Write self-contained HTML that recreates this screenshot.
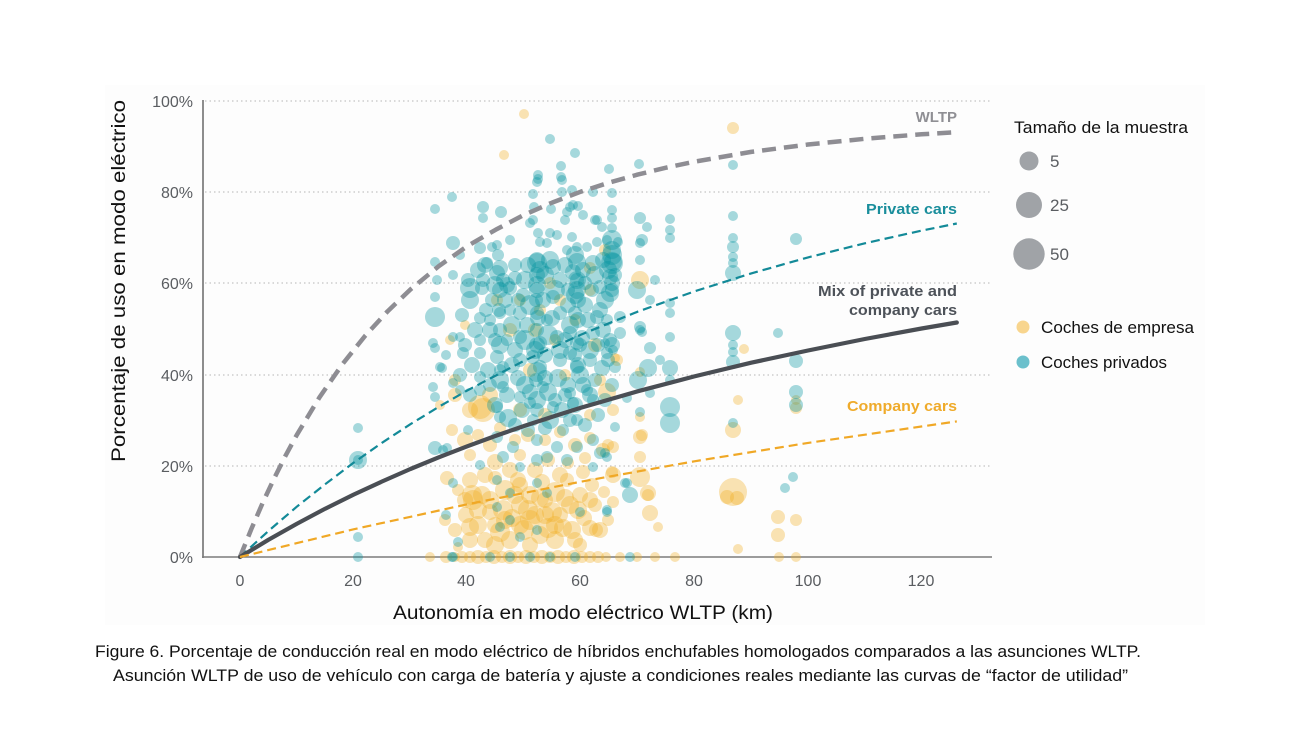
<!DOCTYPE html>
<html><head><meta charset="utf-8"><style>
html,body{margin:0;padding:0;background:#fff;}
svg{display:block;}
.t{fill:#00929f;fill-opacity:.35}
.o{fill:#efac1f;fill-opacity:.34}
.ax{font-family:"Liberation Sans",sans-serif;font-size:16px;fill:#5a5d61}
.cap{font-family:"Liberation Sans",sans-serif;fill:#111}
.lb{font-family:"Liberation Sans",sans-serif;font-weight:bold;font-size:15px}
</style></head><body>
<svg width="1304" height="730" viewBox="0 0 1304 730" xmlns="http://www.w3.org/2000/svg">
<rect x="0" y="0" width="1304" height="730" fill="#fff"/>
<rect x="105" y="85" width="1100" height="540" fill="#fdfdfd"/>
<!-- gridlines -->
<g stroke="#c4c4c4" stroke-width="1.2" stroke-dasharray="1.5 3">
<line x1="205" y1="101" x2="990" y2="101"/>
<line x1="205" y1="192" x2="990" y2="192"/>
<line x1="205" y1="283" x2="990" y2="283"/>
<line x1="205" y1="375" x2="990" y2="375"/>
<line x1="205" y1="466" x2="990" y2="466"/>
</g>
<line x1="203" y1="100" x2="203" y2="558" stroke="#8d8d8d" stroke-width="2"/>
<line x1="202" y1="557" x2="992" y2="557" stroke="#7d7d7d" stroke-width="1.6"/>
<!-- y ticks -->
<g class="ax" text-anchor="end">
<text x="193" y="107">100%</text>
<text x="193" y="198">80%</text>
<text x="193" y="289">60%</text>
<text x="193" y="381">40%</text>
<text x="193" y="472">20%</text>
<text x="193" y="563">0%</text>
</g>
<g class="ax" text-anchor="middle">
<text x="240" y="586">0</text>
<text x="353" y="586">20</text>
<text x="466" y="586">40</text>
<text x="580" y="586">60</text>
<text x="694" y="586">80</text>
<text x="808" y="586">100</text>
<text x="921" y="586">120</text>
</g>
<!-- axis titles -->
<text class="cap" transform="translate(125,281) rotate(-90)" text-anchor="middle" font-size="19" textLength="362" lengthAdjust="spacingAndGlyphs">Porcentaje de uso en modo eléctrico</text>
<text class="cap" x="393" y="619" font-size="19" textLength="380" lengthAdjust="spacingAndGlyphs">Autonomía en modo eléctrico WLTP (km)</text>
<text class="cap" x="95" y="657" font-size="16.5" textLength="1046" lengthAdjust="spacingAndGlyphs">Figure 6. Porcentaje de conducción real en modo eléctrico de híbridos enchufables homologados comparados a las asunciones WLTP.</text>
<text class="cap" x="113" y="681" font-size="16.5" textLength="1015" lengthAdjust="spacingAndGlyphs">Asunción WLTP de uso de vehículo con carga de batería  y ajuste a condiciones reales mediante las curvas de “factor de utilidad”</text>

<!-- orange points -->
<g>
<circle class="o" cx="524" cy="114" r="5"/><circle class="o" cx="504" cy="155" r="5"/><circle class="o" cx="733" cy="128" r="6"/>
<circle class="o" cx="480" cy="407" r="12"/><circle class="o" cx="470" cy="410" r="8"/><circle class="o" cx="455" cy="395" r="7"/><circle class="o" cx="520" cy="300" r="6"/><circle class="o" cx="540" cy="310" r="6"/><circle class="o" cx="535" cy="330" r="7"/><circle class="o" cx="555" cy="340" r="6"/><circle class="o" cx="590" cy="290" r="6"/><circle class="o" cx="595" cy="345" r="7"/><circle class="o" cx="617" cy="360" r="6"/><circle class="o" cx="607" cy="392" r="9"/><circle class="o" cx="613" cy="410" r="6"/><circle class="o" cx="640" cy="280" r="9"/><circle class="o" cx="640" cy="437" r="7"/><circle class="o" cx="648" cy="493" r="8"/><circle class="o" cx="658" cy="527" r="5"/><circle class="o" cx="608" cy="445" r="6"/><circle class="o" cx="612" cy="472" r="6"/><circle class="o" cx="615" cy="358" r="5"/><circle class="o" cx="640" cy="372" r="5"/><circle class="o" cx="640" cy="417" r="5"/><circle class="o" cx="642" cy="435" r="6"/><circle class="o" cx="613" cy="447" r="6"/><circle class="o" cx="640" cy="457" r="6"/><circle class="o" cx="640" cy="477" r="10"/><circle class="o" cx="613" cy="475" r="8"/><circle class="o" cx="648" cy="495" r="6"/><circle class="o" cx="650" cy="513" r="8"/><circle class="o" cx="613" cy="502" r="6"/><circle class="o" cx="600" cy="530" r="8"/><circle class="o" cx="637" cy="557" r="5"/><circle class="o" cx="655" cy="557" r="5"/><circle class="o" cx="675" cy="557" r="5"/><circle class="o" cx="733" cy="492" r="14"/><circle class="o" cx="727" cy="497" r="7"/><circle class="o" cx="737" cy="498" r="7"/><circle class="o" cx="738" cy="400" r="5"/><circle class="o" cx="744" cy="349" r="5"/><circle class="o" cx="733" cy="430" r="8"/><circle class="o" cx="738" cy="549" r="5"/><circle class="o" cx="778" cy="517" r="7"/><circle class="o" cx="778" cy="535" r="7"/><circle class="o" cx="796" cy="520" r="6"/><circle class="o" cx="796" cy="408" r="6"/><circle class="o" cx="796" cy="400" r="5"/><circle class="o" cx="779" cy="557" r="5"/><circle class="o" cx="796" cy="557" r="5"/>
<circle class="o" cx="452" cy="430" r="6"/><circle class="o" cx="465" cy="440" r="8"/><circle class="o" cx="478" cy="435" r="6"/><circle class="o" cx="490" cy="445" r="7"/><circle class="o" cx="500" cy="428" r="6"/><circle class="o" cx="515" cy="440" r="6"/><circle class="o" cx="528" cy="435" r="7"/><circle class="o" cx="545" cy="440" r="6"/><circle class="o" cx="560" cy="432" r="6"/><circle class="o" cx="575" cy="445" r="7"/><circle class="o" cx="590" cy="438" r="6"/><circle class="o" cx="603" cy="450" r="7"/><circle class="o" cx="470" cy="455" r="6"/><circle class="o" cx="495" cy="462" r="8"/><circle class="o" cx="520" cy="455" r="6"/><circle class="o" cx="548" cy="460" r="7"/><circle class="o" cx="568" cy="463" r="6"/><circle class="o" cx="585" cy="458" r="6"/>
<circle class="o" cx="447" cy="478" r="7"/><circle class="o" cx="458" cy="490" r="6"/><circle class="o" cx="470" cy="480" r="8"/><circle class="o" cx="482" cy="495" r="9"/><circle class="o" cx="495" cy="478" r="7"/><circle class="o" cx="505" cy="490" r="10"/><circle class="o" cx="518" cy="480" r="8"/><circle class="o" cx="530" cy="495" r="9"/><circle class="o" cx="542" cy="482" r="8"/><circle class="o" cx="555" cy="492" r="10"/><circle class="o" cx="567" cy="480" r="7"/><circle class="o" cx="580" cy="495" r="8"/><circle class="o" cx="592" cy="485" r="7"/><circle class="o" cx="604" cy="492" r="6"/><circle class="o" cx="473" cy="500" r="10"/><circle class="o" cx="520" cy="505" r="9"/><circle class="o" cx="545" cy="500" r="8"/><circle class="o" cx="570" cy="505" r="9"/><circle class="o" cx="595" cy="505" r="7"/>
<circle class="o" cx="445" cy="520" r="6"/><circle class="o" cx="455" cy="530" r="7"/><circle class="o" cx="466" cy="515" r="8"/><circle class="o" cx="478" cy="525" r="9"/><circle class="o" cx="490" cy="512" r="8"/><circle class="o" cx="500" cy="532" r="10"/><circle class="o" cx="512" cy="518" r="9"/><circle class="o" cx="524" cy="530" r="10"/><circle class="o" cx="535" cy="515" r="9"/><circle class="o" cx="548" cy="528" r="10"/><circle class="o" cx="560" cy="515" r="8"/><circle class="o" cx="572" cy="530" r="9"/><circle class="o" cx="584" cy="518" r="8"/><circle class="o" cx="596" cy="530" r="7"/><circle class="o" cx="608" cy="520" r="6"/><circle class="o" cx="485" cy="540" r="8"/><circle class="o" cx="530" cy="545" r="8"/><circle class="o" cx="555" cy="540" r="9"/><circle class="o" cx="580" cy="545" r="7"/><circle class="o" cx="458" cy="547" r="5"/><circle class="o" cx="470" cy="527" r="9"/><circle class="o" cx="472" cy="495" r="10"/><circle class="o" cx="483" cy="410" r="12"/>
<circle class="o" cx="465" cy="500" r="8"/><circle class="o" cx="478" cy="510" r="9"/><circle class="o" cx="490" cy="500" r="9"/><circle class="o" cx="503" cy="510" r="10"/><circle class="o" cx="515" cy="495" r="9"/><circle class="o" cx="528" cy="510" r="10"/><circle class="o" cx="540" cy="498" r="9"/><circle class="o" cx="552" cy="512" r="10"/><circle class="o" cx="565" cy="498" r="9"/><circle class="o" cx="578" cy="510" r="9"/><circle class="o" cx="590" cy="500" r="8"/><circle class="o" cx="470" cy="540" r="8"/><circle class="o" cx="495" cy="545" r="9"/><circle class="o" cx="510" cy="540" r="9"/><circle class="o" cx="520" cy="525" r="9"/><circle class="o" cx="540" cy="535" r="9"/><circle class="o" cx="563" cy="528" r="9"/><circle class="o" cx="575" cy="540" r="8"/><circle class="o" cx="590" cy="528" r="8"/><circle class="o" cx="485" cy="475" r="8"/><circle class="o" cx="510" cy="470" r="8"/><circle class="o" cx="535" cy="470" r="8"/><circle class="o" cx="560" cy="475" r="8"/><circle class="o" cx="583" cy="472" r="7"/><circle class="o" cx="530" cy="520" r="10"/><circle class="o" cx="545" cy="515" r="9"/><circle class="o" cx="505" cy="520" r="9"/><circle class="o" cx="555" cy="525" r="9"/><circle class="o" cx="495" cy="525" r="8"/><circle class="o" cx="520" cy="485" r="8"/>
<circle class="o" cx="446" cy="557" r="6"/><circle class="o" cx="455" cy="557" r="5"/><circle class="o" cx="462" cy="557" r="6"/><circle class="o" cx="470" cy="557" r="6"/><circle class="o" cx="478" cy="557" r="7"/><circle class="o" cx="486" cy="557" r="6"/><circle class="o" cx="494" cy="557" r="7"/><circle class="o" cx="502" cy="557" r="6"/><circle class="o" cx="510" cy="557" r="7"/><circle class="o" cx="518" cy="557" r="6"/><circle class="o" cx="526" cy="557" r="7"/><circle class="o" cx="534" cy="557" r="6"/><circle class="o" cx="542" cy="557" r="7"/><circle class="o" cx="550" cy="557" r="6"/><circle class="o" cx="558" cy="557" r="7"/><circle class="o" cx="566" cy="557" r="6"/><circle class="o" cx="574" cy="557" r="7"/><circle class="o" cx="582" cy="557" r="6"/><circle class="o" cx="590" cy="557" r="6"/><circle class="o" cx="598" cy="557" r="6"/><circle class="o" cx="606" cy="557" r="5"/><circle class="o" cx="430" cy="557" r="5"/><circle class="o" cx="620" cy="557" r="5"/>
<circle class="o" cx="497" cy="300" r="6"/><circle class="o" cx="510" cy="330" r="7"/><circle class="o" cx="560" cy="300" r="6"/><circle class="o" cx="575" cy="320" r="6"/><circle class="o" cx="530" cy="370" r="7"/><circle class="o" cx="565" cy="375" r="6"/><circle class="o" cx="455" cy="380" r="6"/><circle class="o" cx="490" cy="395" r="8"/><circle class="o" cx="520" cy="410" r="7"/><circle class="o" cx="545" cy="415" r="7"/><circle class="o" cx="590" cy="415" r="6"/><circle class="o" cx="600" cy="380" r="6"/><circle class="o" cx="440" cy="405" r="5"/><circle class="o" cx="450" cy="340" r="5"/><circle class="o" cx="465" cy="325" r="5"/><circle class="o" cx="590" cy="268" r="6"/><circle class="o" cx="605" cy="250" r="6"/><circle class="o" cx="550" cy="283" r="6"/>
</g>

<!-- teal points -->
<g>
<circle class="t" cx="358" cy="428" r="5"/><circle class="t" cx="358" cy="460" r="9"/><circle class="t" cx="358" cy="460" r="5"/><circle class="t" cx="358" cy="537" r="5"/><circle class="t" cx="358" cy="557" r="5"/>
<circle class="t" cx="435" cy="209" r="5"/><circle class="t" cx="435" cy="262" r="5"/><circle class="t" cx="435" cy="297" r="5"/><circle class="t" cx="435" cy="317" r="10"/><circle class="t" cx="435" cy="348" r="5"/><circle class="t" cx="433" cy="343" r="5"/><circle class="t" cx="440" cy="367" r="5"/><circle class="t" cx="433" cy="387" r="5"/><circle class="t" cx="435" cy="397" r="5"/><circle class="t" cx="435" cy="448" r="7"/><circle class="t" cx="443" cy="450" r="5"/><circle class="t" cx="446" cy="515" r="5"/><circle class="t" cx="453" cy="483" r="5"/><circle class="t" cx="458" cy="542" r="5"/><circle class="t" cx="453" cy="557" r="5"/><circle class="t" cx="437" cy="280" r="5"/><circle class="t" cx="453" cy="243" r="7"/><circle class="t" cx="452" cy="197" r="5"/><circle class="t" cx="453" cy="275" r="5"/><circle class="t" cx="460" cy="255" r="5"/><circle class="t" cx="446" cy="355" r="5"/>
<circle class="t" cx="550" cy="139" r="5"/><circle class="t" cx="575" cy="153" r="5"/><circle class="t" cx="561" cy="166" r="5"/><circle class="t" cx="561" cy="177" r="5"/><circle class="t" cx="538" cy="175" r="5"/><circle class="t" cx="538" cy="179" r="5"/><circle class="t" cx="609" cy="169" r="5"/><circle class="t" cx="639" cy="164" r="5"/><circle class="t" cx="733" cy="165" r="5"/><circle class="t" cx="537" cy="182" r="5"/><circle class="t" cx="562" cy="180" r="5"/><circle class="t" cx="612" cy="193" r="5"/><circle class="t" cx="593" cy="192" r="5"/><circle class="t" cx="533" cy="194" r="5"/><circle class="t" cx="572" cy="190" r="5"/><circle class="t" cx="562" cy="192" r="5"/><circle class="t" cx="483" cy="207" r="6"/><circle class="t" cx="483" cy="218" r="5"/><circle class="t" cx="501" cy="212" r="6"/><circle class="t" cx="551" cy="209" r="5"/><circle class="t" cx="534" cy="207" r="5"/><circle class="t" cx="570" cy="207" r="5"/><circle class="t" cx="578" cy="206" r="5"/><circle class="t" cx="583" cy="215" r="5"/><circle class="t" cx="595" cy="220" r="5"/><circle class="t" cx="602" cy="227" r="5"/><circle class="t" cx="612" cy="210" r="5"/><circle class="t" cx="612" cy="218" r="5"/><circle class="t" cx="612" cy="228" r="5"/><circle class="t" cx="640" cy="218" r="6"/><circle class="t" cx="647" cy="227" r="5"/><circle class="t" cx="670" cy="219" r="5"/><circle class="t" cx="670" cy="230" r="5"/><circle class="t" cx="670" cy="238" r="5"/><circle class="t" cx="642" cy="240" r="6"/><circle class="t" cx="640" cy="243" r="5"/><circle class="t" cx="530" cy="223" r="5"/><circle class="t" cx="538" cy="233" r="5"/><circle class="t" cx="550" cy="233" r="5"/><circle class="t" cx="565" cy="220" r="5"/><circle class="t" cx="567" cy="212" r="5"/><circle class="t" cx="573" cy="205" r="5"/><circle class="t" cx="597" cy="220" r="5"/><circle class="t" cx="533" cy="220" r="5"/><circle class="t" cx="540" cy="242" r="5"/><circle class="t" cx="547" cy="243" r="5"/><circle class="t" cx="557" cy="235" r="5"/><circle class="t" cx="572" cy="237" r="5"/><circle class="t" cx="577" cy="247" r="5"/><circle class="t" cx="567" cy="250" r="5"/><circle class="t" cx="587" cy="247" r="5"/><circle class="t" cx="597" cy="242" r="5"/><circle class="t" cx="607" cy="240" r="5"/><circle class="t" cx="618" cy="242" r="5"/><circle class="t" cx="480" cy="248" r="6"/><circle class="t" cx="492" cy="247" r="5"/><circle class="t" cx="497" cy="245" r="5"/><circle class="t" cx="510" cy="240" r="5"/><circle class="t" cx="498" cy="255" r="6"/><circle class="t" cx="487" cy="263" r="6"/><circle class="t" cx="733" cy="216" r="5"/><circle class="t" cx="733" cy="238" r="5"/><circle class="t" cx="733" cy="247" r="6"/><circle class="t" cx="733" cy="257" r="5"/><circle class="t" cx="733" cy="263" r="5"/><circle class="t" cx="733" cy="273" r="8"/><circle class="t" cx="796" cy="239" r="6"/><circle class="t" cx="640" cy="260" r="5"/><circle class="t" cx="655" cy="280" r="5"/>
<circle class="t" cx="537" cy="263" r="10"/><circle class="t" cx="553" cy="267" r="8"/><circle class="t" cx="573" cy="272" r="8"/><circle class="t" cx="593" cy="263" r="8"/><circle class="t" cx="612" cy="263" r="11"/><circle class="t" cx="610" cy="277" r="8"/><circle class="t" cx="497" cy="273" r="8"/><circle class="t" cx="503" cy="280" r="7"/><circle class="t" cx="515" cy="278" r="7"/><circle class="t" cx="470" cy="288" r="10"/><circle class="t" cx="482" cy="288" r="7"/><circle class="t" cx="510" cy="288" r="7"/><circle class="t" cx="523" cy="295" r="7"/><circle class="t" cx="537" cy="290" r="8"/><circle class="t" cx="553" cy="297" r="7"/><circle class="t" cx="568" cy="290" r="7"/><circle class="t" cx="577" cy="280" r="7"/><circle class="t" cx="585" cy="283" r="7"/><circle class="t" cx="600" cy="287" r="7"/><circle class="t" cx="612" cy="290" r="7"/>
<circle class="t" cx="480" cy="318" r="6"/><circle class="t" cx="490" cy="320" r="6"/><circle class="t" cx="500" cy="313" r="6"/><circle class="t" cx="510" cy="310" r="6"/><circle class="t" cx="520" cy="313" r="7"/><circle class="t" cx="537" cy="313" r="7"/><circle class="t" cx="547" cy="320" r="6"/><circle class="t" cx="560" cy="313" r="7"/><circle class="t" cx="575" cy="313" r="7"/><circle class="t" cx="597" cy="317" r="7"/><circle class="t" cx="607" cy="320" r="6"/><circle class="t" cx="620" cy="317" r="6"/>
<circle class="t" cx="453" cy="337" r="5"/><circle class="t" cx="460" cy="337" r="5"/><circle class="t" cx="480" cy="340" r="6"/><circle class="t" cx="500" cy="330" r="7"/><circle class="t" cx="507" cy="340" r="6"/><circle class="t" cx="520" cy="337" r="7"/><circle class="t" cx="537" cy="330" r="7"/><circle class="t" cx="540" cy="343" r="7"/><circle class="t" cx="557" cy="337" r="7"/><circle class="t" cx="570" cy="333" r="7"/><circle class="t" cx="577" cy="343" r="7"/><circle class="t" cx="593" cy="333" r="7"/><circle class="t" cx="610" cy="340" r="7"/><circle class="t" cx="620" cy="333" r="6"/>
<circle class="t" cx="442" cy="368" r="5"/><circle class="t" cx="463" cy="353" r="6"/><circle class="t" cx="480" cy="353" r="6"/><circle class="t" cx="497" cy="357" r="7"/><circle class="t" cx="503" cy="367" r="6"/><circle class="t" cx="520" cy="360" r="7"/><circle class="t" cx="533" cy="357" r="7"/><circle class="t" cx="540" cy="367" r="7"/><circle class="t" cx="560" cy="360" r="7"/><circle class="t" cx="570" cy="353" r="7"/><circle class="t" cx="577" cy="367" r="7"/><circle class="t" cx="590" cy="360" r="7"/><circle class="t" cx="607" cy="353" r="6"/><circle class="t" cx="615" cy="367" r="6"/>
<circle class="t" cx="453" cy="383" r="5"/><circle class="t" cx="460" cy="390" r="5"/><circle class="t" cx="480" cy="377" r="6"/><circle class="t" cx="480" cy="390" r="6"/><circle class="t" cx="500" cy="370" r="6"/><circle class="t" cx="503" cy="387" r="6"/><circle class="t" cx="497" cy="407" r="6"/><circle class="t" cx="500" cy="417" r="6"/><circle class="t" cx="520" cy="397" r="6"/><circle class="t" cx="530" cy="403" r="6"/><circle class="t" cx="543" cy="387" r="6"/><circle class="t" cx="533" cy="420" r="6"/><circle class="t" cx="553" cy="407" r="6"/><circle class="t" cx="570" cy="393" r="6"/><circle class="t" cx="573" cy="403" r="6"/><circle class="t" cx="587" cy="390" r="6"/><circle class="t" cx="593" cy="400" r="6"/><circle class="t" cx="577" cy="420" r="6"/><circle class="t" cx="563" cy="430" r="6"/>
<circle class="t" cx="447" cy="448" r="5"/><circle class="t" cx="497" cy="437" r="6"/><circle class="t" cx="503" cy="457" r="6"/><circle class="t" cx="513" cy="447" r="6"/><circle class="t" cx="520" cy="467" r="5"/><circle class="t" cx="537" cy="440" r="6"/><circle class="t" cx="537" cy="460" r="6"/><circle class="t" cx="547" cy="457" r="6"/><circle class="t" cx="557" cy="447" r="6"/><circle class="t" cx="567" cy="460" r="6"/><circle class="t" cx="577" cy="447" r="6"/><circle class="t" cx="593" cy="440" r="6"/><circle class="t" cx="600" cy="453" r="6"/><circle class="t" cx="607" cy="457" r="5"/><circle class="t" cx="593" cy="467" r="5"/><circle class="t" cx="627" cy="483" r="5"/><circle class="t" cx="497" cy="480" r="5"/><circle class="t" cx="510" cy="493" r="5"/><circle class="t" cx="537" cy="483" r="5"/><circle class="t" cx="547" cy="493" r="5"/>
<circle class="t" cx="497" cy="507" r="5"/><circle class="t" cx="510" cy="520" r="5"/><circle class="t" cx="500" cy="527" r="5"/><circle class="t" cx="537" cy="530" r="5"/><circle class="t" cx="520" cy="537" r="5"/><circle class="t" cx="580" cy="512" r="5"/><circle class="t" cx="607" cy="512" r="5"/><circle class="t" cx="480" cy="465" r="5"/><circle class="t" cx="468" cy="430" r="5"/>
<circle class="t" cx="452" cy="557" r="5"/><circle class="t" cx="510" cy="557" r="5"/><circle class="t" cx="550" cy="557" r="5"/><circle class="t" cx="575" cy="557" r="5"/><circle class="t" cx="630" cy="557" r="5"/><circle class="t" cx="490" cy="557" r="5"/><circle class="t" cx="530" cy="557" r="5"/>
<circle class="t" cx="485" cy="265" r="8"/><circle class="t" cx="495" cy="285" r="9"/><circle class="t" cx="505" cy="300" r="8"/><circle class="t" cx="515" cy="265" r="7"/><circle class="t" cx="525" cy="280" r="9"/><circle class="t" cx="530" cy="305" r="10"/><circle class="t" cx="545" cy="275" r="9"/><circle class="t" cx="555" cy="290" r="10"/><circle class="t" cx="565" cy="265" r="8"/><circle class="t" cx="575" cy="295" r="9"/><circle class="t" cx="585" cy="305" r="8"/><circle class="t" cx="595" cy="275" r="9"/><circle class="t" cx="605" cy="300" r="9"/><circle class="t" cx="612" cy="255" r="10"/><circle class="t" cx="608" cy="270" r="9"/><circle class="t" cx="600" cy="310" r="8"/>
<circle class="t" cx="490" cy="330" r="8"/><circle class="t" cx="500" cy="345" r="9"/><circle class="t" cx="512" cy="325" r="9"/><circle class="t" cx="525" cy="340" r="10"/><circle class="t" cx="535" cy="350" r="9"/><circle class="t" cx="548" cy="335" r="10"/><circle class="t" cx="560" cy="350" r="9"/><circle class="t" cx="570" cy="325" r="9"/><circle class="t" cx="582" cy="338" r="8"/><circle class="t" cx="590" cy="350" r="9"/><circle class="t" cx="603" cy="330" r="8"/><circle class="t" cx="612" cy="345" r="8"/>
<circle class="t" cx="488" cy="370" r="8"/><circle class="t" cx="500" cy="380" r="9"/><circle class="t" cx="512" cy="365" r="8"/><circle class="t" cx="525" cy="385" r="9"/><circle class="t" cx="537" cy="372" r="10"/><circle class="t" cx="548" cy="392" r="9"/><circle class="t" cx="558" cy="378" r="9"/><circle class="t" cx="568" cy="385" r="8"/><circle class="t" cx="580" cy="375" r="9"/><circle class="t" cx="590" cy="395" r="8"/><circle class="t" cx="602" cy="368" r="8"/><circle class="t" cx="612" cy="385" r="7"/>
<circle class="t" cx="495" cy="405" r="8"/><circle class="t" cx="508" cy="418" r="9"/><circle class="t" cx="522" cy="410" r="8"/><circle class="t" cx="537" cy="400" r="9"/><circle class="t" cx="550" cy="420" r="9"/><circle class="t" cx="562" cy="410" r="8"/><circle class="t" cx="575" cy="405" r="8"/><circle class="t" cx="585" cy="425" r="7"/><circle class="t" cx="598" cy="415" r="7"/>
<circle class="t" cx="470" cy="300" r="9"/><circle class="t" cx="462" cy="315" r="7"/><circle class="t" cx="475" cy="330" r="8"/><circle class="t" cx="465" cy="345" r="7"/><circle class="t" cx="472" cy="365" r="8"/><circle class="t" cx="460" cy="375" r="7"/><circle class="t" cx="470" cy="395" r="7"/><circle class="t" cx="478" cy="270" r="8"/><circle class="t" cx="468" cy="280" r="7"/>
<circle class="t" cx="537" cy="260" r="8"/><circle class="t" cx="537" cy="275" r="8"/><circle class="t" cx="536" cy="300" r="7"/><circle class="t" cx="538" cy="318" r="8"/><circle class="t" cx="537" cy="345" r="8"/><circle class="t" cx="536" cy="380" r="7"/><circle class="t" cx="537" cy="410" r="7"/><circle class="t" cx="577" cy="262" r="9"/><circle class="t" cx="577" cy="280" r="9"/><circle class="t" cx="578" cy="300" r="8"/><circle class="t" cx="578" cy="320" r="8"/><circle class="t" cx="580" cy="345" r="7"/><circle class="t" cx="578" cy="365" r="8"/><circle class="t" cx="612" cy="240" r="10"/><circle class="t" cx="613" cy="262" r="9"/><circle class="t" cx="612" cy="283" r="8"/><circle class="t" cx="500" cy="268" r="8"/><circle class="t" cx="500" cy="290" r="8"/><circle class="t" cx="499" cy="310" r="7"/>
<circle class="t" cx="483" cy="280" r="7"/><circle class="t" cx="492" cy="300" r="7"/><circle class="t" cx="507" cy="285" r="8"/><circle class="t" cx="518" cy="300" r="7"/><circle class="t" cx="528" cy="265" r="8"/><circle class="t" cx="543" cy="300" r="8"/><circle class="t" cx="550" cy="260" r="9"/><circle class="t" cx="560" cy="280" r="8"/><circle class="t" cx="568" cy="305" r="8"/><circle class="t" cx="583" cy="270" r="8"/><circle class="t" cx="592" cy="290" r="7"/><circle class="t" cx="603" cy="260" r="8"/><circle class="t" cx="615" cy="275" r="7"/><circle class="t" cx="486" cy="310" r="7"/><circle class="t" cx="495" cy="340" r="7"/><circle class="t" cx="515" cy="350" r="8"/><circle class="t" cx="527" cy="325" r="8"/><circle class="t" cx="545" cy="355" r="8"/><circle class="t" cx="552" cy="318" r="8"/><circle class="t" cx="565" cy="340" r="8"/><circle class="t" cx="575" cy="355" r="7"/><circle class="t" cx="588" cy="320" r="8"/><circle class="t" cx="598" cy="345" r="7"/><circle class="t" cx="608" cy="360" r="7"/><circle class="t" cx="490" cy="385" r="7"/><circle class="t" cx="507" cy="395" r="8"/><circle class="t" cx="518" cy="378" r="8"/><circle class="t" cx="530" cy="392" r="8"/><circle class="t" cx="545" cy="378" r="8"/><circle class="t" cx="555" cy="400" r="7"/><circle class="t" cx="565" cy="395" r="7"/><circle class="t" cx="583" cy="385" r="8"/><circle class="t" cx="595" cy="380" r="7"/><circle class="t" cx="605" cy="400" r="7"/><circle class="t" cx="515" cy="425" r="7"/><circle class="t" cx="528" cy="430" r="7"/><circle class="t" cx="545" cy="428" r="7"/><circle class="t" cx="570" cy="420" r="7"/><circle class="t" cx="540" cy="270" r="9"/><circle class="t" cx="575" cy="255" r="9"/><circle class="t" cx="612" cy="250" r="9"/><circle class="t" cx="537" cy="285" r="9"/><circle class="t" cx="577" cy="290" r="9"/>
<circle class="t" cx="610" cy="293" r="9"/><circle class="t" cx="637" cy="290" r="9"/><circle class="t" cx="650" cy="300" r="5"/><circle class="t" cx="670" cy="303" r="5"/><circle class="t" cx="670" cy="313" r="5"/><circle class="t" cx="640" cy="327" r="6"/><circle class="t" cx="642" cy="332" r="5"/><circle class="t" cx="605" cy="343" r="5"/><circle class="t" cx="613" cy="350" r="5"/><circle class="t" cx="670" cy="337" r="5"/><circle class="t" cx="650" cy="348" r="6"/><circle class="t" cx="638" cy="380" r="9"/><circle class="t" cx="648" cy="368" r="9"/><circle class="t" cx="670" cy="368" r="8"/><circle class="t" cx="670" cy="380" r="5"/><circle class="t" cx="650" cy="393" r="5"/><circle class="t" cx="627" cy="398" r="5"/><circle class="t" cx="670" cy="407" r="10"/><circle class="t" cx="670" cy="423" r="10"/><circle class="t" cx="640" cy="412" r="5"/><circle class="t" cx="615" cy="427" r="5"/><circle class="t" cx="605" cy="453" r="5"/><circle class="t" cx="625" cy="483" r="5"/><circle class="t" cx="630" cy="495" r="8"/><circle class="t" cx="607" cy="510" r="5"/><circle class="t" cx="733" cy="333" r="8"/><circle class="t" cx="733" cy="345" r="5"/><circle class="t" cx="733" cy="352" r="5"/><circle class="t" cx="733" cy="362" r="7"/><circle class="t" cx="733" cy="423" r="5"/><circle class="t" cx="778" cy="333" r="5"/><circle class="t" cx="796" cy="361" r="7"/><circle class="t" cx="796" cy="392" r="7"/><circle class="t" cx="796" cy="405" r="7"/><circle class="t" cx="793" cy="477" r="5"/><circle class="t" cx="785" cy="488" r="5"/><circle class="t" cx="660" cy="360" r="5"/><circle class="t" cx="640" cy="330" r="5"/>
</g>

<!-- curves -->
<path d="M240,557 L251.4,528.9 L262.7,502.8 L274.1,478.5 L285.4,455.9 L296.8,434.9 L319.5,397.3 L342.2,364.5 L365,336 L387.7,311.2 L410.4,289.5 L438.8,266.1 L467.2,246.2 L495.6,229.8 L524,214.9 L552.4,202.5 L580.8,191.7 L609.2,182.6 L637.6,174.6 L666,167.7 L694.4,161.7 L751.2,151.9 L808,144.5 L864.8,138.8 L921.6,134.3 L956.8,132.1" fill="none" stroke="#8e8d93" stroke-width="4.5" stroke-dasharray="14 8" stroke-linejoin="round"/>
<path d="M240,557 L268.4,531 L296.8,506.7 L325.2,484.2 L353.6,462.7 L382,442.8 L410.4,424.2 L438.8,406.8 L467.2,390.5 L524,360.8 L580.8,334.7 L637.6,311.7 L694.4,291.4 L751.2,273.4 L808,257.4 L864.8,243.3 L921.6,230.6 L956.8,223.5" fill="none" stroke="#138a98" stroke-width="2.2" stroke-dasharray="9 5"/>
<path d="M240,557 L268.4,539.8 L296.8,523.8 L325.2,508.7 L353.6,494.6 L382,481.5 L410.4,469 L438.8,457.3 L467.2,446.3 L495.6,435.9 L524,426 L552.4,416.7 L580.8,407.8 L637.6,391.3 L694.4,376.4 L751.2,362.7 L808,350.5 L864.8,339 L921.6,328.5 L956.8,322.5" fill="none" stroke="#4a4e54" stroke-width="4.2" stroke-linejoin="round" stroke-linecap="round"/>
<path d="M240,557 L353.6,529.3 L467.2,504.3 L580.8,481.7 L694.4,461.3 L808,442.9 L956.8,421.4" fill="none" stroke="#f0a826" stroke-width="2.2" stroke-dasharray="9 5"/>

<!-- curve labels -->
<text class="lb" x="957" y="122" text-anchor="end" fill="#8f8f94">WLTP</text>
<text class="lb" x="957" y="214" text-anchor="end" fill="#1a8e9c" textLength="91" lengthAdjust="spacingAndGlyphs">Private cars</text>
<text class="lb" x="957" y="296" text-anchor="end" fill="#4d5259" textLength="139" lengthAdjust="spacingAndGlyphs">Mix of private and</text>
<text class="lb" x="957" y="315" text-anchor="end" fill="#4d5259" textLength="108" lengthAdjust="spacingAndGlyphs">company cars</text>
<text class="lb" x="957" y="411" text-anchor="end" fill="#efab2b" textLength="110" lengthAdjust="spacingAndGlyphs">Company cars</text>

<!-- legend -->
<text class="cap" x="1014" y="133" font-size="17" textLength="174" lengthAdjust="spacingAndGlyphs">Tamaño de la muestra</text>
<circle cx="1029" cy="161" r="9.5" fill="#a0a3a7"/>
<circle cx="1029" cy="205" r="13" fill="#a0a3a7"/>
<circle cx="1029" cy="254" r="15.7" fill="#a0a3a7"/>
<g class="ax">
<text x="1050" y="167" font-size="17">5</text>
<text x="1050" y="211" font-size="17">25</text>
<text x="1050" y="260" font-size="17">50</text>
</g>
<circle cx="1023" cy="327" r="6.5" fill="#f8d58e"/>
<circle cx="1023" cy="362" r="6.5" fill="#6bc0cc"/>
<text class="cap" x="1041" y="333" font-size="17" textLength="153" lengthAdjust="spacingAndGlyphs">Coches de empresa</text>
<text class="cap" x="1041" y="368" font-size="17" textLength="126" lengthAdjust="spacingAndGlyphs">Coches privados</text>
</svg>
</body></html>
